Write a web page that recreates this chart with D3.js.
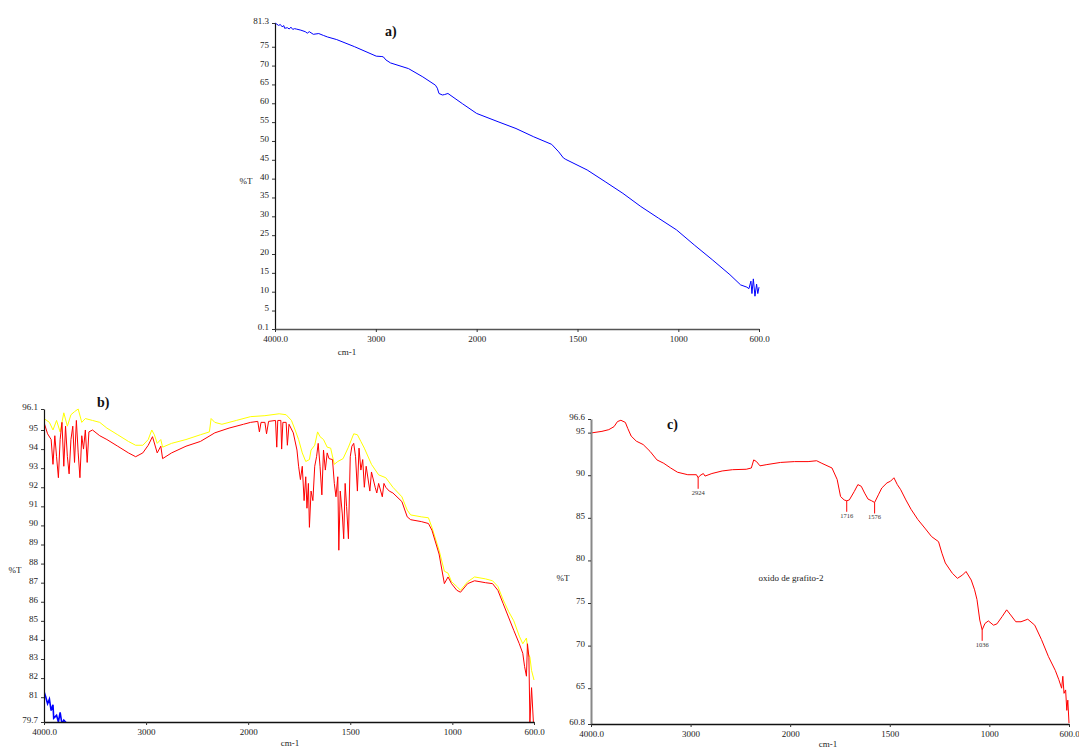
<!DOCTYPE html>
<html>
<head>
<meta charset="utf-8">
<script src="https://cdn.jsdelivr.net/npm/d3@7/dist/d3.min.js"></script>
<style>
  html, body { margin: 0; padding: 0; background: #fff; }
  svg { display: block; }
  text { font-family: "Liberation Serif", "DejaVu Serif", serif; }
</style>
</head>
<body>
<svg id="chart" width="1079" height="749"></svg>
<script>
// ---------- DATA ----------
const xTickValues = [4000, 3000, 2000, 1500, 1000, 600];
const xTickLabels = ["4000.0", "3000", "2000", "1500", "1000", "600.0"];

// Panel a) blank / first sample (blue)
const aWavenumber = [4000, 3982, 3965, 3947, 3930, 3912, 3905, 3877, 3859, 3842, 3824, 3806, 3789, 3744, 3700, 3680, 3660, 3620, 3566, 3520, 3480, 3388, 3210, 2996, 2940, 2925, 2900, 2854, 2676, 2534, 2409, 2390, 2374, 2340, 2320, 2285, 2142, 2000, 1894, 1805, 1717, 1628, 1593, 1570, 1558, 1452, 1363, 1275, 1186, 1098, 1009, 921, 832, 744, 691, 660, 650, 640, 635, 628, 620, 612, 606, 600];
const aTransmittance = [81.3, 81.0, 80.66, 80.9, 80.3, 80.6, 79.9, 80.05, 79.7, 80.2, 79.6, 79.8, 79.7, 79.4, 79.0, 78.6, 79.0, 78.3, 78.5, 78.0, 77.6, 76.9, 75.0, 72.5, 72.4, 72.3, 71.5, 70.7, 69.2, 67.0, 64.8, 64.0, 62.6, 62.2, 62.3, 62.6, 59.9, 57.3, 55.1, 53.3, 51.1, 49.1, 47.1, 45.5, 45.1, 42.3, 39.2, 36.1, 32.6, 29.5, 26.4, 22.4, 18.5, 14.5, 11.8, 11.2, 10.8, 12.8, 9.5, 13.4, 8.8, 12.0, 9.5, 11.2];
const aYTicks = [81.3, 75, 70, 65, 60, 55, 50, 45, 40, 35, 30, 25, 20, 15, 10, 5, 0.1];

// Panel b) yellow spectrum
const bYellowWavenumber = [4000, 3947, 3912, 3877, 3842, 3806, 3771, 3736, 3701, 3665, 3630, 3595, 3525, 3454, 3384, 3278, 3173, 3102, 3032, 2979, 2944, 2919, 2891, 2856, 2838, 2750, 2609, 2468, 2380, 2363, 2327, 2257, 2116, 1988, 1918, 1848, 1814, 1788, 1770, 1753, 1735, 1718, 1700, 1692, 1674, 1660, 1648, 1631, 1613, 1596, 1578, 1561, 1535, 1509, 1483, 1465, 1448, 1431, 1396, 1361, 1326, 1291, 1247, 1221, 1204, 1152, 1117, 1100, 1065, 1039, 1021, 1004, 978, 960, 925, 891, 838, 803, 777, 751, 725, 699, 672, 655, 637, 629, 620, 612, 600];
const bYellowTransmittance = [95.6, 95.4, 95.0, 95.5, 94.9, 95.9, 95.2, 95.8, 95.96, 96.1, 95.4, 95.6, 95.5, 95.4, 95.1, 94.75, 94.4, 94.2, 94.2, 94.5, 95.0, 94.75, 94.3, 94.5, 94.1, 94.3, 94.5, 94.75, 94.9, 95.6, 95.4, 95.3, 95.5, 95.7, 95.75, 95.85, 95.8, 95.5, 95.0, 94.5, 93.8, 93.35, 93.45, 93.95, 94.2, 94.9, 94.65, 94.5, 94.1, 94.05, 93.2, 93.35, 93.5, 94.1, 94.8, 94.75, 94.4, 94.05, 93.2, 92.65, 92.5, 92.0, 91.5, 90.8, 90.55, 90.45, 90.4, 89.9, 88.7, 87.6, 87.5, 87.05, 86.8, 86.6, 87.05, 87.3, 87.2, 87.1, 86.8, 86.1, 85.5, 85.0, 84.2, 83.8, 84.1, 83.3, 83.1, 82.4, 81.9];

// Panel b) red spectrum
const bRedWavenumber = [4000, 3965, 3930, 3912, 3894, 3877, 3859, 3842, 3824, 3806, 3789, 3771, 3754, 3736, 3718, 3701, 3683, 3665, 3648, 3630, 3613, 3595, 3577, 3560, 3525, 3454, 3384, 3278, 3173, 3102, 3032, 2979, 2937, 2891, 2856, 2838, 2750, 2609, 2468, 2327, 2187, 2046, 1988, 1953, 1945, 1937, 1918, 1910, 1900, 1866, 1860, 1855, 1840, 1836, 1830, 1814, 1808, 1800, 1779, 1761, 1753, 1744, 1735, 1726, 1718, 1712, 1705, 1700, 1692, 1683, 1674, 1665, 1657, 1648, 1639, 1631, 1622, 1613, 1604, 1587, 1578, 1570, 1561, 1556, 1549, 1539, 1532, 1525, 1518, 1509, 1500, 1492, 1483, 1474, 1465, 1457, 1448, 1439, 1431, 1422, 1404, 1396, 1378, 1370, 1361, 1343, 1335, 1326, 1309, 1291, 1247, 1221, 1204, 1152, 1117, 1100, 1065, 1039, 1021, 1004, 978, 960, 925, 891, 838, 803, 777, 751, 725, 699, 672, 655, 646, 637, 632, 625, 620, 612, 603];
const bRedTransmittance = [95.4, 94.8, 94.5, 93.2, 94.7, 93.6, 92.5, 94.5, 95.4, 93.1, 95.2, 93.6, 92.7, 94.5, 95.2, 93.3, 95.5, 93.8, 92.5, 94.7, 94.0, 95.0, 93.3, 94.9, 95.0, 94.7, 94.5, 94.15, 93.8, 93.6, 93.8, 94.2, 94.65, 93.8, 94.15, 93.5, 93.8, 94.15, 94.4, 94.85, 95.1, 95.3, 95.4, 95.45, 94.9, 95.4, 95.4, 94.8, 95.45, 95.5, 94.1, 95.5, 95.5, 94.0, 95.4, 95.4, 94.2, 95.3, 94.85, 93.95, 93.1, 92.4, 93.1, 91.3, 92.55, 90.9, 92.2, 89.9, 91.8, 91.3, 93.1, 93.6, 94.3, 93.1, 91.6, 93.95, 92.9, 93.8, 93.5, 93.45, 92.2, 91.5, 92.55, 88.7, 91.8, 90.6, 89.3, 92.2, 91.0, 89.3, 93.6, 94.15, 94.3, 93.6, 91.8, 94.05, 92.9, 93.45, 92.0, 93.1, 91.8, 92.8, 92.0, 91.7, 92.2, 91.5, 92.2, 92.0, 91.8, 91.7, 91.25, 90.45, 90.3, 90.2, 90.1, 89.75, 88.5, 86.95, 87.3, 86.95, 86.6, 86.5, 86.95, 87.1, 87.0, 86.95, 86.6, 85.9, 85.2, 84.5, 83.8, 83.3, 82.6, 82.1, 83.8, 83.1, 79.7, 81.5, 79.7];
const bYTicks = [96.1, 95, 94, 93, 92, 91, 90, 89, 88, 87, 86, 85, 84, 83, 82, 81, 79.7];

// Panel c) oxido de grafito-2
const cWavenumber = [4000, 3890, 3821, 3769, 3734, 3700, 3655, 3631, 3597, 3545, 3476, 3407, 3338, 3269, 3200, 3131, 3028, 2941, 2924, 2907, 2872, 2855, 2786, 2683, 2579, 2441, 2390, 2366, 2338, 2303, 2234, 2097, 1979, 1910, 1867, 1841, 1790, 1764, 1747, 1729, 1716, 1703, 1678, 1660, 1643, 1626, 1609, 1591, 1576, 1557, 1540, 1514, 1496, 1479, 1462, 1445, 1419, 1393, 1359, 1324, 1290, 1255, 1238, 1221, 1186, 1160, 1134, 1117, 1091, 1074, 1062, 1048, 1036, 1022, 1005, 979, 962, 936, 913, 893, 867, 841, 807, 772, 738, 703, 669, 651, 637, 631, 625, 617, 611, 606, 600];
const cTransmittance = [94.96, 95.15, 95.35, 95.7, 96.3, 96.45, 96.2, 95.5, 94.6, 94.0, 93.6, 92.8, 91.8, 91.4, 90.85, 90.35, 90.06, 90.06, 89.7, 89.95, 90.2, 89.9, 90.2, 90.5, 90.65, 90.7, 90.85, 91.8, 91.6, 91.1, 91.25, 91.5, 91.6, 91.6, 91.7, 91.4, 90.85, 89.5, 87.5, 87.1, 87.0, 87.1, 88.1, 88.9, 88.7, 87.9, 87.2, 87.0, 86.8, 87.7, 88.5, 89.1, 89.3, 89.7, 88.9, 88.3, 87.1, 86.0, 84.8, 83.8, 82.8, 82.2, 80.85, 79.7, 78.5, 77.9, 78.3, 78.7, 77.7, 76.55, 75.4, 73.0, 71.85, 72.6, 72.9, 72.4, 72.55, 73.4, 74.2, 73.6, 72.8, 72.8, 73.1, 72.4, 70.7, 68.7, 67.1, 66.0, 65.0, 66.4, 64.4, 64.8, 62.4, 63.6, 60.9];
const cYTicks = [96.6, 95, 90, 85, 80, 75, 70, 65, 60.8];
const cPeakWavenumbers = [2924, 1716, 1576, 1036];
const cPeakLabels = ["2924", "1716", "1576", "1036"];

// ---------- DRAWING ----------
const svg = d3.select("#chart");
svg.append("rect").attr("width", 1079).attr("height", 749).attr("fill", "#fff");

function zip(w, t) { return w.map((d, i) => ({ wn: d, t: t[i] })); }

function drawPanel(cfg) {
  const g = svg.append("g");
  const x = d3.scaleLinear()
    .domain([4000, 2000, 600])
    .range([cfg.x0, cfg.x0 + (cfg.x1 - cfg.x0) * 200 / 480, cfg.x1]);
  const y = d3.scaleLinear().domain(cfg.yDomain).range([cfg.y1, cfg.y0]);

  const clipId = "clip-" + cfg.name;
  svg.append("clipPath").attr("id", clipId)
    .append("rect")
    .attr("x", cfg.x0).attr("y", cfg.y0 - 1)
    .attr("width", cfg.x1 - cfg.x0 + 1).attr("height", cfg.y1 - cfg.y0 + 1);

  const line = d3.line().x(d => x(d.wn)).y(d => y(d.t));
  const plot = g.append("g").attr("clip-path", `url(#${clipId})`);
  cfg.series.forEach(s => {
    plot.append("path")
      .datum(zip(s.wn, s.t))
      .attr("d", line)
      .attr("fill", "none")
      .attr("stroke", s.color)
      .attr("stroke-width", s.width || 1)
      .attr("stroke-linejoin", "miter");
  });

  // Y axis
  const yAxis = d3.axisLeft(y)
    .tickValues(cfg.yTicks)
    .tickFormat(d => String(d))
    .tickSize(3).tickSizeOuter(0).tickPadding(3);
  const ya = g.append("g").attr("transform", `translate(${cfg.x0},0)`).call(yAxis);
  ya.select(".domain").attr("stroke", cfg.yAxisColor).attr("stroke-width", cfg.yAxisWidth);
  ya.selectAll(".tick line").attr("stroke", "#333");
  ya.selectAll(".tick text")
    .attr("font-family", "Liberation Serif, serif")
    .attr("font-size", 9).attr("fill", "#222")
    .attr("dy", "0.05em");

  // X axis
  const xAxis = d3.axisBottom(x)
    .tickValues(xTickValues)
    .tickFormat((d, i) => xTickLabels[i])
    .tickSize(3).tickSizeOuter(0).tickPadding(4);
  const xa = g.append("g").attr("transform", `translate(0,${cfg.y1})`).call(xAxis);
  xa.select(".domain").attr("stroke", cfg.xAxisColor).attr("stroke-width", 1.3);
  xa.selectAll(".tick line").attr("stroke", "#333");
  xa.selectAll(".tick text")
    .attr("font-family", "Liberation Serif, serif")
    .attr("font-size", 9).attr("fill", "#222");

  // Axis titles
  g.append("text").attr("x", cfg.yTitle[0]).attr("y", cfg.yTitle[1])
    .attr("font-size", 9).attr("fill", "#222").attr("text-anchor", "middle").text("%T");
  g.append("text").attr("x", cfg.xTitle[0]).attr("y", cfg.xTitle[1])
    .attr("font-size", 9).attr("fill", "#222").attr("text-anchor", "middle").text("cm-1");

  // Panel letter
  g.append("text").attr("x", cfg.letter[0]).attr("y", cfg.letter[1])
    .attr("font-size", 14).attr("font-weight", "bold").attr("fill", "#111")
    .text(cfg.name + ")");

  return { x, y, g };
}

// Panel a
drawPanel({
  name: "a", x0: 275, x1: 759, y0: 23, y1: 329,
  yDomain: [0.1, 81.3], yTicks: aYTicks,
  yAxisColor: "#111", yAxisWidth: 1.2, xAxisColor: "#555",
  series: [{ wn: aWavenumber, t: aTransmittance, color: "#0000ff" }],
  yTitle: [246, 184], xTitle: [347, 355], letter: [385, 36]
});

// Panel b
drawPanel({
  name: "b", x0: 44, x1: 534, y0: 409, y1: 722,
  yDomain: [79.7, 96.1], yTicks: bYTicks,
  yAxisColor: "#111", yAxisWidth: 1.2, xAxisColor: "#111",
  series: [
    { wn: aWavenumber, t: aTransmittance, color: "#0000ff", width: 1.6 },
    { wn: bYellowWavenumber, t: bYellowTransmittance, color: "#ffff00" },
    { wn: bRedWavenumber, t: bRedTransmittance, color: "#ff0000" }
  ],
  yTitle: [15, 573], xTitle: [290, 746], letter: [97, 407]
});

// Panel c
const pc = drawPanel({
  name: "c", x0: 591, x1: 1069, y0: 419, y1: 724,
  yDomain: [60.8, 96.6], yTicks: cYTicks,
  yAxisColor: "#888", yAxisWidth: 2, xAxisColor: "#111",
  series: [{ wn: cWavenumber, t: cTransmittance, color: "#ff0000" }],
  yTitle: [563, 581], xTitle: [828, 747], letter: [667, 429]
});

// Peak markers in panel c
const cInterp = d3.scaleLinear().domain(cWavenumber).range(cTransmittance);
cPeakWavenumbers.forEach((wn, i) => {
  const px = pc.x(wn), py = pc.y(cInterp(wn));
  pc.g.append("line").attr("x1", px).attr("x2", px)
    .attr("y1", py).attr("y2", py + 11)
    .attr("stroke", "#ff0000").attr("stroke-width", 1);
  pc.g.append("text").attr("x", px).attr("y", py + 17)
    .attr("text-anchor", "middle").attr("font-size", 6.5).attr("fill", "#333")
    .text(cPeakLabels[i]);
});

// Sample name in panel c
pc.g.append("text").attr("x", 791).attr("y", 581)
  .attr("text-anchor", "middle").attr("font-size", 9).attr("fill", "#222")
  .text("oxido de grafito-2");
</script>
</body>
</html>
